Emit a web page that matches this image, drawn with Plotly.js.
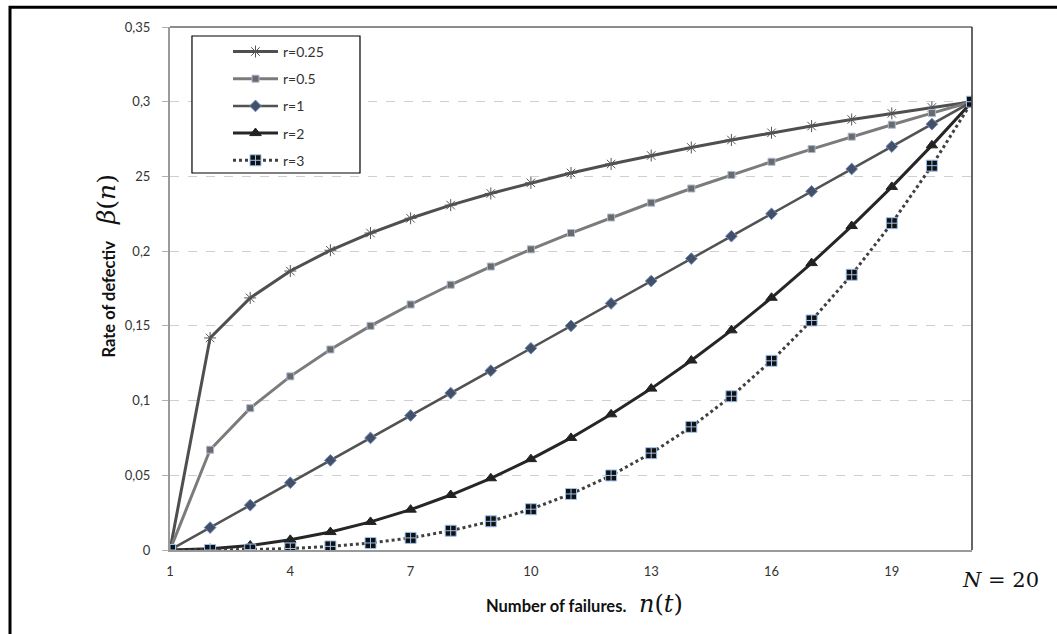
<!DOCTYPE html>
<html>
<head>
<meta charset="utf-8">
<script src="https://cdn.plot.ly/plotly-3.0.1.min.js"></script>
<style>
  html, body { margin: 0; padding: 0; background: #fff; }
  #chart { width: 1057px; height: 634px; }
</style>
</head>
<body>
<div id="chart"></div>
<script>
// Number of failures n(t)
const failures = [1,2,3,4,5,6,7,8,9,10,11,12,13,14,15,16,17,18,19,20,21];

// Rate of defectives beta(n)
const r025 = [0,0.1419,0.1687,0.1867,0.2006,0.2121,0.2220,0.2308,0.2386,0.2457,0.2523,0.2583,0.2640,0.2694,0.2744,0.2792,0.2837,0.2881,0.2922,0.2962,0.3];
const r05  = [0,0.0671,0.0949,0.1162,0.1342,0.1500,0.1643,0.1775,0.1897,0.2012,0.2121,0.2225,0.2324,0.2419,0.2510,0.2598,0.2683,0.2766,0.2846,0.2924,0.3];
const r1   = [0,0.015,0.030,0.045,0.060,0.075,0.090,0.105,0.120,0.135,0.150,0.165,0.180,0.195,0.210,0.225,0.240,0.255,0.270,0.285,0.3];
const r2   = [0,0.0008,0.0030,0.0068,0.0120,0.0188,0.0270,0.0368,0.0480,0.0608,0.0750,0.0908,0.1080,0.1268,0.1470,0.1688,0.1920,0.2168,0.2430,0.2708,0.3];
const r3   = [0,0.0000,0.0003,0.0010,0.0024,0.0047,0.0081,0.0129,0.0192,0.0273,0.0375,0.0499,0.0648,0.0824,0.1029,0.1266,0.1536,0.1842,0.2187,0.2572,0.3];

const seriesNames = ["r=0.25","r=0.5","r=1","r=2","r=3"];

const xTickVals = [1,4,7,10,13,16,19];
const yTickVals = [0,0.05,0.1,0.15,0.2,0.25,0.3,0.35];
const yTickText = ["0","0,05","0,1","0,15","0,2","25","0,3","0,35"];

const traces = [
  {x: failures, y: r025, name: seriesNames[0], mode: "lines+markers", legendgroup: "a",
   line: {color: "#4f4f4f", width: 3},
   marker: {symbol: "asterisk-open", size: 10, color: "#555", line: {color: "#555", width: 1}}},
  {x: failures, y: r05, name: seriesNames[1], mode: "lines+markers", legendgroup: "b",
   line: {color: "#7b7b7b", width: 3},
   marker: {symbol: "square", size: 7, color: "#6a6a6a", line: {color: "#a9b9d2", width: 1}}},
  {x: failures, y: r1, name: seriesNames[2], mode: "lines+markers", legendgroup: "c",
   line: {color: "#525252", width: 2.5},
   marker: {symbol: "diamond", size: 9, color: "#435068", line: {color: "#6d8cbc", width: 1}}},
  {x: failures, y: r2, name: seriesNames[3], mode: "lines+markers", legendgroup: "d",
   line: {color: "#262626", width: 3},
   marker: {symbol: "triangle-up", size: 10, color: "#222", line: {color: "#222", width: 1}}},
  {x: failures, y: r3, name: seriesNames[4], mode: "lines+markers", legendgroup: "e",
   line: {color: "#404040", width: 3, dash: "dot"},
   marker: {symbol: "square-cross", size: 11, color: "#111", line: {color: "#9cc3f0", width: 1}}}
];

const serif = "'DejaVu Serif', 'Liberation Serif', serif";

const layout = {
  width: 1057, height: 634,
  margin: {l: 170, r: 85, t: 27, b: 84, pad: 0},
  paper_bgcolor: "#fff", plot_bgcolor: "#fff",
  font: {family: "Lato, 'Open Sans', sans-serif", size: 13, color: "#333"},
  showlegend: true,
  legend: {
    x: 0.0723, y: 0.983, xanchor: "left", yanchor: "top",
    borderwidth: 0, bgcolor: "rgba(0,0,0,0)",
    font: {size: 14, color: "#333"},
    itemwidth: 45, tracegroupgap: 6,
    traceorder: "grouped"
  },
  xaxis: {
    range: [1, 21], tickvals: xTickVals, ticks: "", showgrid: false, zeroline: false,
    showline: true, linecolor: "#9a9a9a", linewidth: 2,
    tickfont: {size: 13, color: "#333"}, ticklabelstandoff: 8
  },
  yaxis: {
    range: [0, 0.35], tickvals: yTickVals, ticktext: yTickText,
    ticks: "outside", ticklen: 6, tickcolor: "#b0b0b0", tickwidth: 1,
    showgrid: true, gridcolor: "#cfcfcf", griddash: "dash", gridwidth: 1,
    zeroline: false, showline: true, linecolor: "#9a9a9a", linewidth: 2,
    tickfont: {size: 13, color: "#333"}, ticklabelstandoff: 9
  },
  shapes: [
    {type: "line", xref: "paper", yref: "paper", x0: 0, x1: 1, y0: 1, y1: 1, line: {color: "#666", width: 1.5}},
    {type: "line", xref: "paper", yref: "paper", x0: 1, x1: 1, y0: 0, y1: 1, line: {color: "#333", width: 1.5}},
    {type: "rect", xref: "paper", yref: "paper", x0: 0.0274, x1: 0.2369, y0: 0.7208, y1: 0.9828,
     fillcolor: "#fff", line: {color: "#000", width: 1.2}, layer: "above"},
    {type: "rect", xref: "paper", yref: "paper", x0: -0.1995, x1: 1.2, y0: -0.25, y1: 1.038, line: {color: "#000", width: 3}, layer: "below"}
  ],
  annotations: [
    {text: "<b>Rate of defectiv</b>", xref: "paper", yref: "paper", x: -0.0767, y: 0.48,
     xanchor: "center", yanchor: "middle",
     textangle: -90, showarrow: false, font: {size: 16.5, color: "#111"}},
    {text: "<i>β</i>(<i>n</i>)", xref: "paper", yref: "paper", x: -0.0798, y: 0.669,
     xanchor: "center", yanchor: "middle",
     textangle: -90, showarrow: false, font: {family: serif, size: 25, color: "#111"}},
    {text: "<b>Number of failures.</b>", xref: "paper", yref: "paper", x: 0.481, y: -0.107,
     xanchor: "center", yanchor: "middle",
     showarrow: false, font: {size: 16.5, color: "#111"}},
    {text: "<i>n</i>(<i>t</i>)", xref: "paper", yref: "paper", x: 0.612, y: -0.103,
     xanchor: "center", yanchor: "middle",
     showarrow: false, font: {family: serif, size: 24, color: "#111"}},
    {text: "<i>N</i> = 20", xref: "paper", yref: "paper", x: 1.035, y: -0.0574,
     xanchor: "center", yanchor: "middle",
     showarrow: false, font: {family: serif, size: 21, color: "#111"}}
  ]
};

Plotly.newPlot("chart", traces, layout, {displayModeBar: false, staticPlot: true});
</script>
</body>
</html>
